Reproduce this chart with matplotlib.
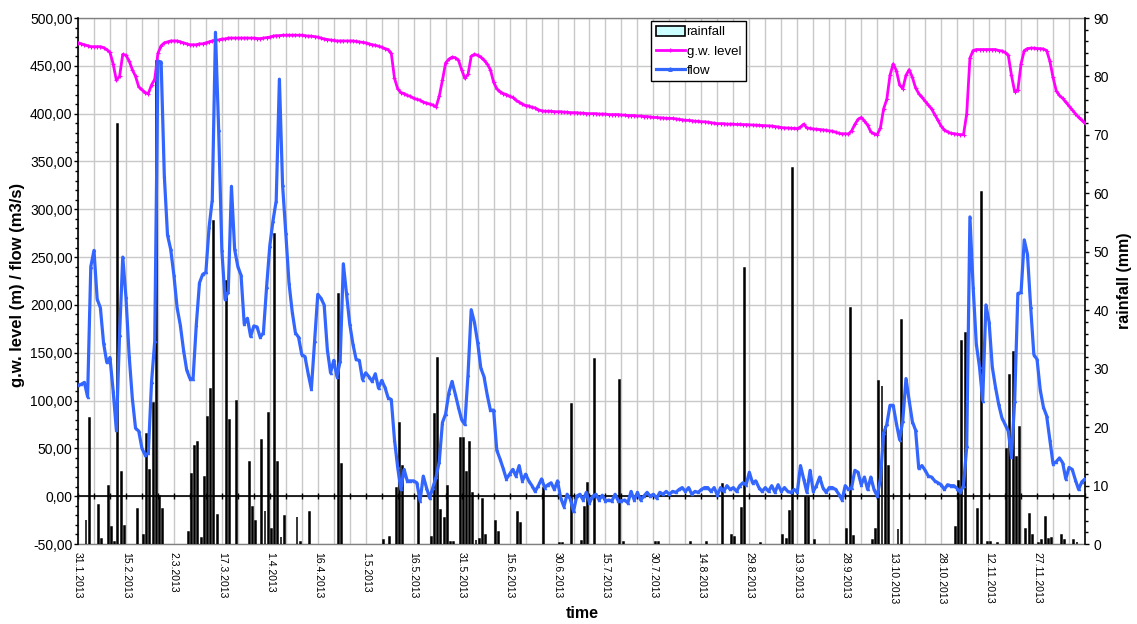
import datetime as dt
import matplotlib
matplotlib.use("Agg")
import matplotlib.pyplot as plt
from matplotlib.ticker import MultipleLocator, FuncFormatter, FixedLocator
from matplotlib.patches import Patch
from matplotlib.lines import Line2D

plt.rcParams['font.family'] = ['Liberation Sans', 'DejaVu Sans']

# ---------------- data (daily, starting 31.1.2013) ----------------
start_date = dt.date(2013, 1, 31)

flow = [
    116, 117, 119, 104, 240, 257, 206, 197, 160, 140,
    145, 110, 69, 169, 250, 208, 147, 102, 71, 68,
    50, 43, 45, 119, 162, 455, 454, 335, 273, 258,
    231, 197, 179, 153, 132, 123, 123, 179, 223, 232,
    234, 281, 310, 485, 383, 257, 206, 214, 324, 258,
    240, 231, 180, 186, 167, 178, 177, 166, 171, 219,
    262, 288, 309, 436, 325, 275, 223, 193, 171, 166,
    148, 146, 128, 112, 162, 211, 207, 200, 153, 129,
    142, 125, 141, 243, 212, 180, 159, 143, 142, 122,
    129, 125, 120, 128, 113, 121, 114, 103, 101, 59,
    30, 7, 28, 16, 16, 16, 14, -5, 21, 9,
    -2, 9, 20, 36, 77, 86, 108, 120, 107, 93,
    80, 75, 127, 195, 182, 161, 134, 125, 106, 90,
    90, 48, 39, 29, 18, 23, 28, 21, 32, 16,
    23, 16, 11, 5, 11, 18, 9, 12, 14, 7,
    16, -2, -11, 2, -3, -16, 0, 2, -4, 4,
    -7, 0, 2, -4, 1, -5, -4, -5, 2, -5,
    -5, -4, -7, 5, -4, 4, -4, 0, 4, 0,
    2, -2, 4, 2, 5, 2, 5, 4, 7, 9,
    5, 9, 2, 5, 4, 7, 9, 9, 5, 9,
    1, 9, 5, 11, 7, 9, 5, 11, 14, 12,
    25, 14, 16, 9, 5, 9, 5, 11, 4, 12,
    5, 9, 5, 4, 7, 4, 32, 18, 4, 27,
    5, 11, 20, 9, 4, 9, 9, 7, 2, -4,
    11, 7, 9, 27, 25, 12, 20, 7, 20, 7,
    0, 18, 66, 75, 95, 95, 76, 59, 79, 123,
    100, 78, 69, 29, 32, 27, 21, 20, 16, 14,
    12, 7, 12, 11, 11, 8, 4, 11, 52, 292,
    219, 159, 135, 100, 200, 182, 135, 114, 96, 82,
    75, 68, 41, 100, 212, 213, 268, 253, 198, 148,
    143, 111, 93, 84, 59, 34, 36, 40, 35, 18,
    30, 28, 17, 7, 15, 18,
]

gw_level = [
    474, 473, 472, 471, 470, 470, 470, 470, 469, 467,
    464, 452, 435, 439, 462, 461, 455, 446, 439, 428,
    425, 422, 421, 430, 436, 463, 471, 474, 475, 476,
    476, 476, 475, 474, 473, 472, 472, 472, 473, 473,
    474, 475, 476, 477, 477, 478, 478, 479, 479, 479,
    479, 479, 479, 479, 479, 479, 478.5, 478.5, 479, 479.5,
    480, 481, 481.5, 481.5, 482, 482, 482, 482, 482, 482,
    482, 481.5, 481, 481, 480.5, 480, 479, 478, 477.5, 477,
    476.5, 476, 476, 476, 476, 476, 476, 475.5, 475, 474.5,
    474, 473, 472, 471.5, 470.5, 469.5, 468, 467, 463, 437,
    426, 422, 421, 419, 418, 416, 415, 414, 412, 411,
    410, 409, 407, 418, 435, 453, 457, 459, 458.5, 456,
    446, 437, 441, 460, 462, 461, 459, 456, 452, 446,
    433, 426, 423, 421, 420, 418, 417, 414, 412, 410,
    408.5, 408, 406.5, 406, 404, 403, 402.5, 402.5, 402.5, 402,
    402, 402, 401.5, 401.5, 401, 401, 401, 400.5, 400.5, 400,
    400, 400, 400, 399.5, 399.5, 399.5, 399, 399, 399, 399,
    398.5, 398.5, 398, 398, 398, 397.5, 397.5, 397, 397, 396.5,
    396, 396, 395.5, 395.5, 395, 395, 395, 394.5, 394, 393.5,
    393, 393, 392.5, 392, 392, 391.5, 391.5, 391, 390.5, 390,
    389.5, 389.5, 389.5, 389, 389, 389, 388.7, 388.7, 388.5, 388.5,
    388.3, 388, 388, 387.8, 387.5, 387.3, 387, 387, 386.5, 386,
    385.5, 385, 385, 384.7, 384.5, 384.4, 386, 389, 385, 384.5,
    384, 383.7, 383.4, 383, 382.5, 382, 381.6, 380.5, 379.5, 378.8,
    379, 378.7, 382, 388.7, 394, 396, 392.5, 388, 381, 379,
    378, 385, 405, 415, 440, 452, 445, 430, 426, 440,
    446, 438, 427, 421, 417, 413, 409, 405, 399, 393,
    387, 383, 381, 379.5, 379, 378.5, 378, 378, 400, 458,
    466, 467, 467, 467, 467, 467, 467, 467, 466, 465.5,
    464, 461, 440, 423, 425, 452, 466, 468, 468.5, 468.5,
    468, 468, 467.5, 466, 455, 438, 424, 419, 416, 412,
    408, 404, 400, 396, 393, 390,
]

rain_day = [
    2, 3, 6, 7, 9, 10, 11, 12, 13, 14, 18, 20, 21, 22, 23, 24, 25, 26,
    34, 35, 36, 37, 38, 39, 40, 41, 42, 43, 46, 47, 49, 53, 54, 55, 57,
    58, 59, 60, 61, 62, 63, 64, 68, 69, 72, 81, 82, 95, 97, 99, 100, 101,
    106, 110, 111, 112, 113, 114, 115, 116, 117, 119, 120, 121, 122, 123,
    124, 125, 126, 127, 130, 131, 137, 138, 145, 150, 151, 154, 157, 158,
    159, 161, 169, 170, 180, 181, 191, 196, 201, 204, 205, 207, 208, 213,
    220, 221, 222, 223, 227, 228, 230, 240, 241, 242, 248, 249, 250, 251,
    252, 253, 256, 257, 274, 275, 276, 277, 281, 282, 284, 285, 287, 290,
    291, 292, 293, 294, 296, 297, 298, 300, 301, 302, 303, 304, 307, 308,
    311, 312,
]
rain_mm = [
    4.1, 21.6, 6.7, 0.9, 10, 2.9, 0.3, 71.9, 12.4, 3, 6, 1.6, 18.8, 12.7, 24.2, 82.6, 8.2, 6,
    2, 12, 16.8, 17.4, 1, 11.4, 21.7, 26.6, 55.2, 5, 45, 21.3, 24.5, 14.1, 6.4, 3.9, 17.8,
    5.7, 22.5, 2.5, 53.1, 14, 1.2, 4.8, 4.6, 0.3, 5.4, 42.7, 13.7, 0.6, 1.2, 9.5, 20.7, 13.3,
    8.2, 1.2, 22.3, 31.8, 5.8, 4.4, 9.9, 0.3, 0.3, 18.2, 18.2, 12.4, 17.5, 8.8,
    0.6, 0.9, 7.7, 1.6, 4, 2, 5.4, 3.6, 9.6, 0.2, 0.2, 24, 0.5, 6.4,
    10.5, 31.6, 28.1, 0.3, 0.3, 0.3, 0.3, 0.3, 10.2, 1.6, 1.2, 6.1, 47.2, 0.2,
    1.6, 0.9, 5.7, 64.4, 8, 8, 0.7, 2.6, 40.4, 1.3, 0.6, 2.6, 27.9, 27,
    20.1, 13.3, 2.6, 38.3, 2.9, 10.8, 34.7, 36.1, 6, 60.2, 0.3, 0.3, 0.2, 16.3,
    28.9, 32.8, 14.9, 20, 2.6, 5.1, 1.6, 0.2, 0.6, 4.6, 0.9, 1, 1.6, 0.6,
    0.6, 0.3,
]

# ---------------- figure ----------------
n = len(flow)
days = list(range(n))
W, H = 1137, 624
fig = plt.figure(figsize=(W / 100, H / 100), dpi=100)
pos = [78 / W, 1 - 544 / H, (1085 - 78) / W, (544 - 18) / H]

ax_bg = fig.add_axes(pos, zorder=0)
ax_r = fig.add_axes(pos, zorder=1)
ax = fig.add_axes(pos, zorder=2)
ax_r.patch.set_visible(False)
ax.patch.set_visible(False)

for a in (ax_bg, ax_r, ax):
    a.set_xlim(0, n - 1)
ax_bg.set_ylim(-50, 500)
ax.set_ylim(-50, 500)
ax_r.set_ylim(0, 90)

grid_c = '#c8c8c8'
# background: grid + date labels
ax_bg.xaxis.set_major_locator(FixedLocator(list(range(0, n - 14, 15))))
ax_bg.xaxis.set_minor_locator(MultipleLocator(5))
ax_bg.yaxis.set_major_locator(MultipleLocator(50))
ax_bg.grid(True, which='both', axis='x', color=grid_c, lw=1.0)
ax_bg.grid(True, which='major', axis='y', color=grid_c, lw=1.0)
ax_bg.set_axisbelow(True)


def date_fmt(x, p):
    d = start_date + dt.timedelta(days=int(round(x)))
    return f"{d.day}.{d.month}.{d.year}"


ax_bg.xaxis.set_major_formatter(FuncFormatter(date_fmt))
ax_bg.tick_params(axis='x', which='both', length=0, labelsize=7.5, pad=6)
for lab in ax_bg.get_xticklabels():
    lab.set_rotation(-90)
ax_bg.tick_params(axis='y', left=False, labelleft=False)
for s in ('left', 'right'):
    ax_bg.spines[s].set_visible(False)
for s in ('top', 'bottom'):
    ax_bg.spines[s].set_color('#808080')
    ax_bg.spines[s].set_linewidth(1.0)

# rainfall bars on right axis
ax_r.bar([d + 0.5 for d in rain_day], rain_mm, width=0.3, color='#ccffff',
         edgecolor='black', linewidth=1.1, zorder=2)
ax_r.yaxis.tick_right()
ax_r.yaxis.set_major_locator(MultipleLocator(10))
ax_r.yaxis.set_minor_locator(MultipleLocator(2))
ax_r.tick_params(axis='y', which='major', direction='out', length=3, width=1,
                 labelsize=10, pad=3)
ax_r.tick_params(axis='y', which='minor', direction='out', length=2, width=1)
ax_r.tick_params(axis='x', which='both', bottom=False, labelbottom=False)
for s in ('left', 'top', 'bottom'):
    ax_r.spines[s].set_visible(False)
ax_r.spines['right'].set_color('black')
ax_r.spines['right'].set_linewidth(1.2)

# lines on left axis
ax.plot(days, gw_level, color='#ff00ff', lw=2.0, marker='+', ms=2.5, mew=0.8,
        zorder=3)
ax.plot(days, flow, color='#3366ff', lw=2.3, marker='^', ms=2.0, mew=0.5,
        zorder=4)

ax.yaxis.set_major_locator(MultipleLocator(50))
ax.yaxis.set_minor_locator(MultipleLocator(10))
ax.yaxis.set_major_formatter(FuncFormatter(lambda v, p: f"{v:.2f}".replace('.', ',')))
ax.tick_params(axis='y', which='major', direction='out', length=3, width=1,
               labelsize=10, pad=1)
ax.tick_params(axis='y', which='minor', direction='out', length=2, width=1)
ax.spines['bottom'].set_position(('data', 0))
ax.spines['bottom'].set_color('black')
ax.spines['bottom'].set_linewidth(1.2)
ax.spines['left'].set_color('black')
ax.spines['left'].set_linewidth(1.2)
ax.spines['top'].set_visible(False)
ax.spines['right'].set_visible(False)
ax.xaxis.set_major_locator(MultipleLocator(5))
ax.tick_params(axis='x', which='major', direction='inout', length=5, width=1,
               labelbottom=False)

# axis titles
fig.text(18 / W, 1 - 285 / H, 'g.w. level (m) / flow (m3/s)', rotation=90,
         ha='center', va='center', fontsize=12, fontweight='bold')
fig.text(1125 / W, 1 - 281 / H, 'rainfall (mm)', rotation=90,
         ha='center', va='center', fontsize=11.5, fontweight='bold')
fig.text(582 / W, 1 - 614 / H, 'time', ha='center', va='center',
         fontsize=11.5, fontweight='bold')

# legend
handles = [
    Patch(facecolor='#ccffff', edgecolor='black', linewidth=1.2),
    Line2D([], [], color='#ff00ff', lw=2.0, marker='+', ms=3, mew=0.8),
    Line2D([], [], color='#3366ff', lw=2.3, marker='^', ms=2.5),
]
leg = ax.legend(handles, ['rainfall', 'g.w. level', 'flow'], loc='upper left',
                bbox_to_anchor=(0.569, 0.994), fontsize=9.5, frameon=True,
                fancybox=False, edgecolor='black', framealpha=1,
                handlelength=2.2, handleheight=0.8, borderpad=0.35,
                labelspacing=0.5, handletextpad=0.15, borderaxespad=0)
leg.get_frame().set_linewidth(1.0)

fig.savefig('out.png', dpi=100)
